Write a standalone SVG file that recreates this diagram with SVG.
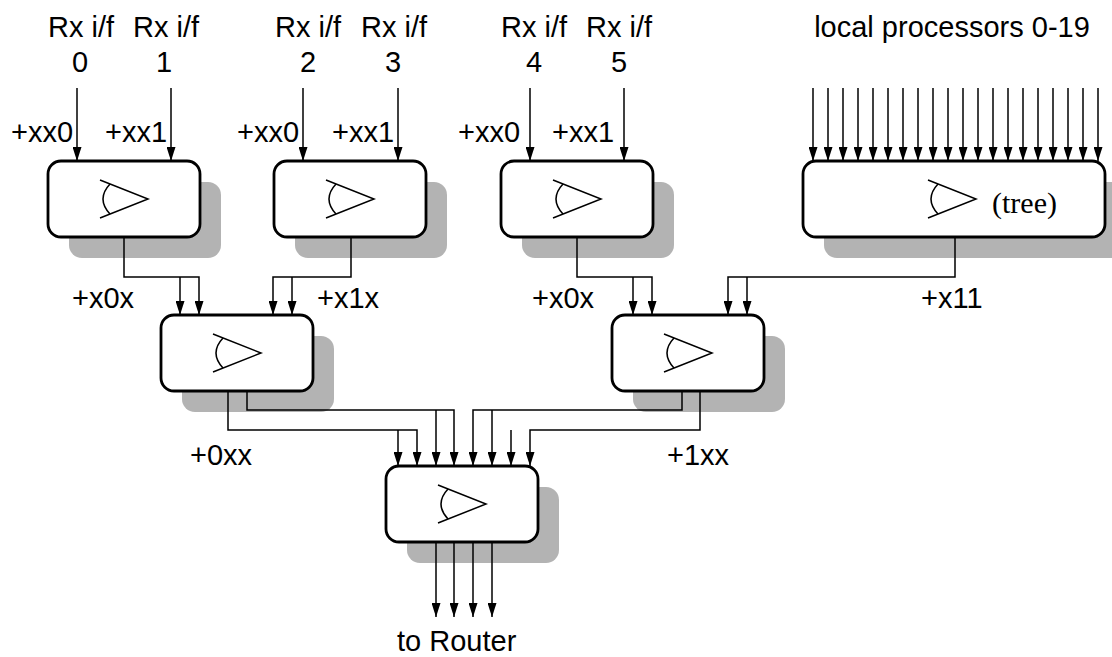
<svg xmlns="http://www.w3.org/2000/svg" width="1112" height="657" viewBox="0 0 1112 657">
<style>
  .shadow { fill: #b3b3b3; }
  .box { fill: #ffffff; stroke: #000000; stroke-width: 2.8; }
  .sym { fill: none; stroke: #000000; stroke-width: 1.5; }
  .wire { fill: none; stroke: #000000; stroke-width: 1.5; }
  .arr { marker-end: url(#ah); }
  .lbl { font-family: "Liberation Sans", Arial, sans-serif; font-size: 29px; fill: #000000; }
  .mid { text-anchor: middle; }
  .serif { font-family: "Liberation Serif", "Times New Roman", serif; font-size: 30px; fill: #000000; }
</style>
<defs>
  <marker id="ah" markerUnits="userSpaceOnUse" markerWidth="14" markerHeight="9" refX="14" refY="4.5" orient="auto">
    <path d="M0,0 L14,4.5 L0,9 Z" fill="#000000"/>
  </marker>
  <g id="symbol">
    <path d="M52,19 L100,38 L52,57"/>
    <path d="M62,23 Q48,38 62,53"/>
  </g>
</defs>
<rect width="1112" height="657" fill="#ffffff"/>

<g id="node-a">
  <rect class="shadow" x="69" y="182" width="152" height="76" rx="13"/>
  <rect class="box" x="48" y="161" width="152" height="76" rx="13"/>
  <use href="#symbol" class="sym" x="48" y="161"/>
</g>
<g id="node-b">
  <rect class="shadow" x="295" y="182" width="152" height="76" rx="13"/>
  <rect class="box" x="274" y="161" width="152" height="76" rx="13"/>
  <use href="#symbol" class="sym" x="274" y="161"/>
</g>
<g id="node-c">
  <rect class="shadow" x="522" y="182" width="152" height="76" rx="13"/>
  <rect class="box" x="501" y="161" width="152" height="76" rx="13"/>
  <use href="#symbol" class="sym" x="501" y="161"/>
</g>
<g id="node-tree">
  <rect class="shadow" x="824" y="182" width="302" height="76" rx="13"/>
  <rect class="box" x="803" y="161" width="302" height="76" rx="13"/>
  <use href="#symbol" class="sym" x="876" y="161"/>
  <text class="serif" x="992" y="213">(tree)</text>
</g>
<g id="node-f">
  <rect class="shadow" x="182" y="336" width="152" height="76" rx="13"/>
  <rect class="box" x="161" y="315" width="152" height="76" rx="13"/>
  <use href="#symbol" class="sym" x="161" y="315"/>
</g>
<g id="node-e">
  <rect class="shadow" x="633" y="336" width="152" height="76" rx="13"/>
  <rect class="box" x="612" y="315" width="152" height="76" rx="13"/>
  <use href="#symbol" class="sym" x="612" y="315"/>
</g>
<g id="node-g">
  <rect class="shadow" x="407" y="487" width="152" height="76" rx="13"/>
  <rect class="box" x="386" y="466" width="152" height="76" rx="13"/>
  <use href="#symbol" class="sym" x="386" y="466"/>
</g>

<g id="connectors" class="wire">
  <path class="arr" d="M77,88 V161"/>
  <path class="arr" d="M171,88 V161"/>
  <path class="arr" d="M303,88 V161"/>
  <path class="arr" d="M398,88 V161"/>
  <path class="arr" d="M530,88 V161"/>
  <path class="arr" d="M624,88 V161"/>
  <path class="arr" d="M813,88 V161"/>
  <path class="arr" d="M828,88 V161"/>
  <path class="arr" d="M843,88 V161"/>
  <path class="arr" d="M858,88 V161"/>
  <path class="arr" d="M873,88 V161"/>
  <path class="arr" d="M888,88 V161"/>
  <path class="arr" d="M903,88 V161"/>
  <path class="arr" d="M918,88 V161"/>
  <path class="arr" d="M933,88 V161"/>
  <path class="arr" d="M948,88 V161"/>
  <path class="arr" d="M963,88 V161"/>
  <path class="arr" d="M978,88 V161"/>
  <path class="arr" d="M993,88 V161"/>
  <path class="arr" d="M1008,88 V161"/>
  <path class="arr" d="M1023,88 V161"/>
  <path class="arr" d="M1038,88 V161"/>
  <path class="arr" d="M1053,88 V161"/>
  <path class="arr" d="M1068,88 V161"/>
  <path class="arr" d="M1083,88 V161"/>
  <path class="arr" d="M1098,88 V161"/>

  <path class="arr" d="M124,237 V277 H199 V315"/>
  <path class="arr" d="M180,277 V315"/>
  <path class="arr" d="M351,237 V277 H273 V315"/>
  <path class="arr" d="M292,277 V315"/>
  <path class="arr" d="M577,237 V277 H652 V315"/>
  <path class="arr" d="M633,277 V315"/>
  <path class="arr" d="M955,237 V277 H728 V315"/>
  <path class="arr" d="M747,277 V315"/>

  <path class="arr" d="M247,391 V410 H454 V466"/>
  <path class="arr" d="M436,410 V466"/>
  <path class="arr" d="M228,391 V430 H417 V466"/>
  <path class="arr" d="M398,430 V466"/>
  <path class="arr" d="M682,391 V410 H473 V466"/>
  <path class="arr" d="M492,410 V466"/>
  <path class="arr" d="M700,391 V430 H530 V466"/>
  <path class="arr" d="M511,430 V466"/>

  <path class="arr" d="M436,542 V617"/>
  <path class="arr" d="M454,542 V617"/>
  <path class="arr" d="M473,542 V617"/>
  <path class="arr" d="M492,542 V617"/>
</g>

<g id="labels">
  <text class="lbl mid" x="81" y="37">Rx i/f</text>
  <text class="lbl mid" x="166" y="37">Rx i/f</text>
  <text class="lbl mid" x="308" y="37">Rx i/f</text>
  <text class="lbl mid" x="394" y="37">Rx i/f</text>
  <text class="lbl mid" x="534" y="37">Rx i/f</text>
  <text class="lbl mid" x="619" y="37">Rx i/f</text>
  <text class="lbl mid" x="80" y="72">0</text>
  <text class="lbl mid" x="164" y="72">1</text>
  <text class="lbl mid" x="308" y="72">2</text>
  <text class="lbl mid" x="393" y="72">3</text>
  <text class="lbl mid" x="534" y="72">4</text>
  <text class="lbl mid" x="619" y="72">5</text>
  <text class="lbl mid" x="952" y="37">local processors 0-19</text>
  <text class="lbl" x="11" y="142">+xx0</text>
  <text class="lbl" x="105" y="142">+xx1</text>
  <text class="lbl" x="237" y="142">+xx0</text>
  <text class="lbl" x="332" y="142">+xx1</text>
  <text class="lbl" x="458" y="142">+xx0</text>
  <text class="lbl" x="552" y="142">+xx1</text>
  <text class="lbl" x="72" y="308">+x0x</text>
  <text class="lbl" x="317" y="308">+x1x</text>
  <text class="lbl" x="532" y="308">+x0x</text>
  <text class="lbl" x="921" y="308">+x11</text>
  <text class="lbl" x="190" y="465">+0xx</text>
  <text class="lbl" x="667" y="465">+1xx</text>
  <text class="lbl" x="397" y="651">to Router</text>
</g>
</svg>
